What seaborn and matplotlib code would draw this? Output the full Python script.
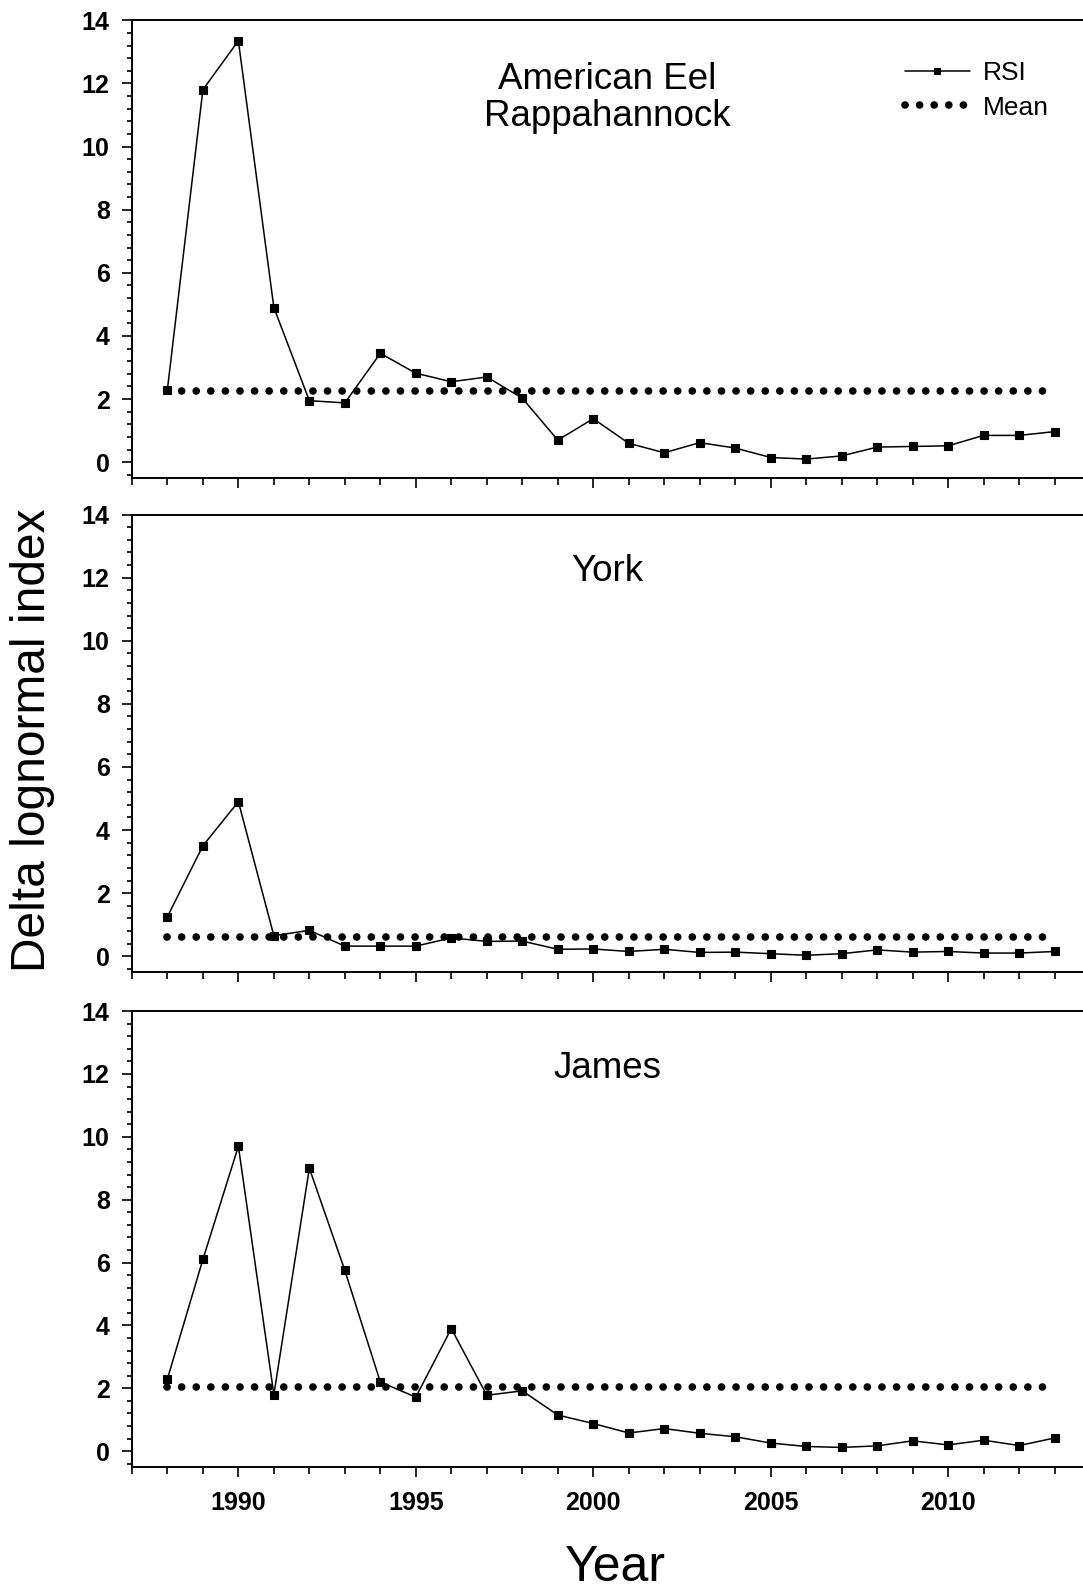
import numpy as np
import pandas as pd
import matplotlib
matplotlib.use("Agg")
import matplotlib.pyplot as plt
import seaborn as sns
from matplotlib.ticker import MultipleLocator

years = list(range(1988, 2014))
rappahannock = [2.3, 11.8, 13.35, 4.9, 1.95, 1.88, 3.45, 2.82, 2.55, 2.7, 2.03, 0.7, 1.38,
                0.6, 0.3, 0.62, 0.45, 0.15, 0.1, 0.2, 0.48, 0.5, 0.52, 0.85, 0.85, 0.97]
york = [1.25, 3.5, 4.9, 0.65, 0.82, 0.32, 0.32, 0.32, 0.58, 0.47, 0.48, 0.22, 0.23,
        0.15, 0.22, 0.12, 0.13, 0.08, 0.03, 0.08, 0.2, 0.13, 0.15, 0.1, 0.1, 0.15]
james = [2.3, 6.1, 9.7, 1.8, 9.0, 5.75, 2.2, 1.72, 3.9, 1.78, 1.92, 1.15, 0.88,
         0.58, 0.72, 0.57, 0.46, 0.26, 0.15, 0.12, 0.17, 0.33, 0.2, 0.35, 0.18, 0.42]
means = [2.25, 0.6, 2.03]
titles = ["American Eel\nRappahannock", "York", "James"]
title_y = [0.83, 0.875, 0.875]
series = [rappahannock, york, james]
xticks_major = [1990, 1995, 2000, 2005, 2010]

sns.set_style("ticks")
plt.rcParams['font.family'] = ['Liberation Sans', 'DejaVu Sans']
plt.rcParams['text.color'] = 'black'
plt.rcParams['xtick.color'] = 'black'
plt.rcParams['ytick.color'] = 'black'
plt.rcParams['axes.labelcolor'] = 'black'

fig = plt.figure(figsize=(10.83, 15.95), dpi=100)
positions = [(0.1218, 0.7003, 0.8782, 0.2870),
             (0.1218, 0.3906, 0.8782, 0.2868),
             (0.1218, 0.0803, 0.8782, 0.2858)]

for i, (vals, m, title, ty, pos) in enumerate(zip(series, means, titles, title_y, positions)):
    ax = fig.add_axes(pos)
    df = pd.DataFrame({"Year": years, "RSI": vals, "Mean": [m] * len(years)})
    sns.lineplot(data=df, x="Year", y="RSI", ax=ax, color="black", marker="s",
                 markersize=6, markeredgecolor="black", markeredgewidth=0.8,
                 linewidth=1.1, label="RSI")
    sns.lineplot(data=df, x="Year", y="Mean", ax=ax, color="black",
                 linewidth=5.5, linestyle=(0, (0.01, 1.9)), dash_capstyle="round",
                 label="Mean")
    ax.set_xlim(1987, 2013.8)
    ax.set_ylim(-0.5, 14)
    ax.set_yticks(range(0, 15, 2))
    ax.yaxis.set_minor_locator(MultipleLocator(0.4))
    ax.set_xticks(xticks_major)
    ax.xaxis.set_minor_locator(MultipleLocator(1))
    ax.tick_params(axis="both", which="major", direction="out", width=1.2,
                   labelsize=18, color="black", labelcolor="black")
    ax.tick_params(axis="y", which="major", length=7, pad=9)
    ax.tick_params(axis="y", which="minor", length=3.6, width=1.2, direction="out")
    ax.tick_params(axis="x", which="major", length=7, pad=10)
    ax.tick_params(axis="x", which="minor", length=5, width=1.2, direction="out")
    for lab in ax.get_yticklabels() + ax.get_xticklabels():
        lab.set_fontweight("bold")
    if i < 2:
        ax.set_xticklabels([])
    ax.set_xlabel("")
    ax.set_ylabel("")
    for s in ["left", "bottom", "top"]:
        ax.spines[s].set_linewidth(1.4)
        ax.spines[s].set_color("black")
    ax.spines["right"].set_visible(False)
    ax.text(0.5, ty, title, transform=ax.transAxes, ha="center", va="center",
            fontsize=26.5, linespacing=1.1, color="black")
    if i == 0:
        leg = ax.legend(loc="upper left", bbox_to_anchor=(0.813, 0.911), frameon=False,
                        fontsize=19, handlelength=2.45, handletextpad=0.5,
                        labelspacing=0.4, borderpad=0, borderaxespad=0)
        leg.legend_handles[0].set_markersize(5)
    else:
        ax.get_legend().remove()

fig.text(0.030, 0.536, "Delta lognormal index", rotation=90, ha="center",
         va="center", fontsize=34.5)
fig.text(0.568, 0.017, "Year", ha="center", va="center", fontsize=36)

fig.savefig("out.png", dpi=100)
